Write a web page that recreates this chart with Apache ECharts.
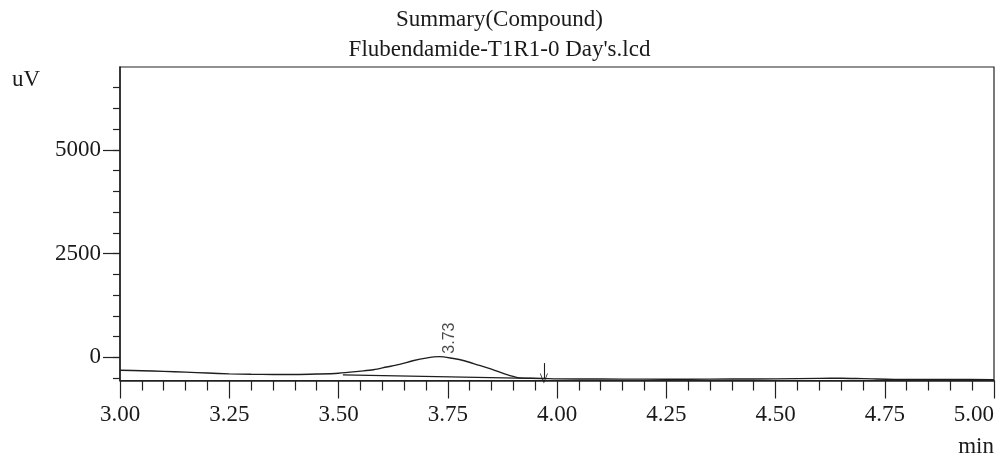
<!DOCTYPE html>
<html>
<head>
<meta charset="utf-8">
<script src="https://cdn.jsdelivr.net/npm/echarts@6/dist/echarts.min.js"></script>
<style>
html,body{margin:0;padding:0;background:#fff;}
#chart{width:999px;height:460px;}
</style>
</head>
<body>
<div id="chart"></div>
<script>
// ---- data ----
const titleLines = ["Summary(Compound)", "Flubendamide-T1R1-0 Day's.lcd"];
const yUnit = "uV";
const xUnit = "min";
const times = [3.00, 3.05, 3.10, 3.15, 3.20, 3.25, 3.30, 3.35, 3.40, 3.45, 3.50, 3.55, 3.58, 3.61, 3.64, 3.67, 3.70, 3.73, 3.76, 3.79, 3.82, 3.85, 3.88, 3.91, 3.94, 3.97, 4.00, 4.10, 4.20, 4.30, 4.40, 4.50, 4.60, 4.65, 4.70, 4.80, 4.90, 5.00];
const signal = [-312, -325, -340, -358, -380, -400, -410, -415, -415, -405, -385, -335, -300, -235, -170, -85, -20, 15, -25, -90, -190, -285, -400, -490, -505, -512, -520, -525, -528, -530, -525, -522, -508, -505, -515, -535, -535, -538];
const baselineTimes = [3.51, 3.97];
const baselineValues = [-425, -515];
const peakTimes = [3.73];
const peakLabels = ["3.73"];
const startMarkTimes = [3.39];
const endArrowTimes = [3.97];
const yMajorTicks = [0, 2500, 5000];
const yMinorTicks = [-500, 0, 500, 1000, 1500, 2000, 2500, 3000, 3500, 4000, 4500, 5000, 5500, 6000, 6500];

// ---- build ----
const serif = "Liberation Serif";
const ink = "#1a1a1a";
const trace = times.map((t, i) => [t, signal[i]]);
const base = baselineTimes.map((t, i) => [t, baselineValues[i]]);
function valueAt(t) {
  let best = 0;
  for (let i = 0; i < times.length; i++) if (Math.abs(times[i] - t) < Math.abs(times[best] - t)) best = i;
  return signal[best];
}
const peaks = peakTimes.map((t, i) => ({ value: [t, valueAt(t)], name: peakLabels[i] }));
const chevron = 'path://M0,10 L5,0 L10,10 L9,10 L5,2 L1,10 Z';
const markerLines = [];
startMarkTimes.forEach(t => markerLines.push([{ coord: [t, valueAt(t) + 30], symbol: 'none' }, { coord: [t, -800], symbol: 'none' }]));
endArrowTimes.forEach(t => markerLines.push([{ coord: [t, -140], symbol: 'none' }, { coord: [t, valueAt(t)], symbol: chevron, symbolSize: [8, 10] }]));

const chart = echarts.init(document.getElementById('chart'), null, { renderer: 'canvas' });
chart.setOption({
  backgroundColor: '#fff',
  animation: false,
  title: {
    text: titleLines.join('\n'),
    left: 'center',
    top: 5,
    padding: 0,
    textStyle: { fontFamily: serif, fontSize: 23, fontWeight: 'normal', color: ink, lineHeight: 30, align: 'center' }
  },
  graphic: [
    { type: 'text', left: 12, top: 68, style: { text: yUnit, fontFamily: serif, fontSize: 23, fill: ink } },
    { type: 'text', right: 5, top: 435, style: { text: xUnit, fontFamily: serif, fontSize: 23, fill: ink } }
  ],
  grid: { left: 120, right: 5, top: 67, bottom: 79.5, show: true, borderColor: '#222', borderWidth: 1.2, backgroundColor: 'transparent', outerBoundsMode: 'none', containLabel: false },
  xAxis: {
    type: 'value', min: 3, max: 5, interval: 0.25,
    axisLine: { show: true, onZero: false, lineStyle: { color: '#222', width: 1.5 } },
    axisTick: { show: true, length: 18, lineStyle: { color: '#222', width: 1.2 } },
    minorTick: { show: true, splitNumber: 5, length: 10, lineStyle: { color: '#222', width: 1.2 } },
    axisLabel: { formatter: v => v.toFixed(2), fontFamily: serif, fontSize: 23, color: ink, margin: 23, showMinLabel: true, showMaxLabel: true, alignMaxLabel: 'right' },
    splitLine: { show: false }
  },
  yAxis: [
    {
      type: 'value', min: -560, max: 7000,
      axisLine: { show: true, onZero: false, lineStyle: { color: '#222', width: 1.5 } },
      axisTick: { show: true, length: 17, customValues: yMajorTicks, lineStyle: { color: '#222', width: 1.2 } },
      axisLabel: { customValues: yMajorTicks, formatter: v => String(v), fontFamily: serif, fontSize: 23, color: ink, margin: 19 },
      splitLine: { show: false }
    },
    {
      type: 'value', min: -560, max: 7000, position: 'left',
      axisLine: { show: false },
      axisTick: { show: true, length: 7, customValues: yMinorTicks, lineStyle: { color: '#222', width: 1.2 } },
      axisLabel: { show: false, customValues: yMinorTicks },
      splitLine: { show: false }
    }
  ],
  series: [
    {
      type: 'line', data: trace, smooth: 0.3, showSymbol: false,
      lineStyle: { color: '#1e1e1e', width: 1.4 }
    },
    {
      type: 'line', data: base, showSymbol: false,
      lineStyle: { color: '#1e1e1e', width: 1.2 }
    },
    {
      type: 'scatter', data: peaks, symbolSize: 0,
      label: {
        show: true, formatter: p => p.name, position: 'top', distance: 3,
        rotate: 90, align: 'left', verticalAlign: 'middle', offset: [0, 11],
        fontFamily: 'Liberation Sans', fontSize: 16, color: ink
      }
    },
    {
      type: 'line', data: [], clip: false, showSymbol: false,
      markLine: {
        silent: true, animation: false, symbol: 'none',
        label: { show: false },
        lineStyle: { color: '#1e1e1e', width: 1.1, type: 'solid' },
        data: markerLines
      }
    }
  ]
});
</script>
</body>
</html>
